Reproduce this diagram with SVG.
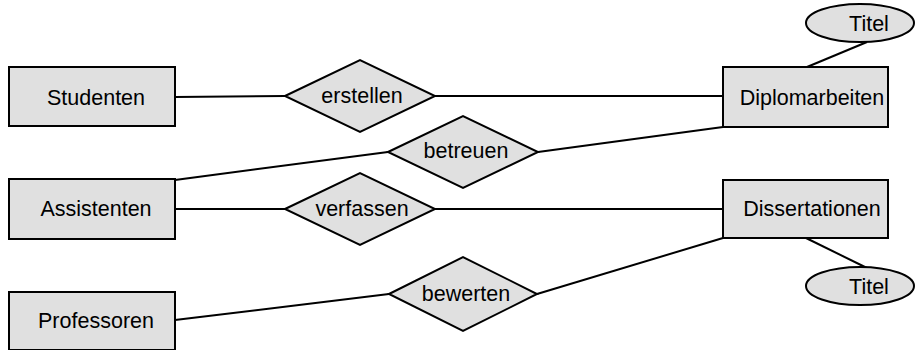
<svg xmlns="http://www.w3.org/2000/svg" width="917" height="350" viewBox="0 0 917 350">
<style>
.s{fill:#e0e0e0;stroke:#000;stroke-width:2}
.c line{stroke:#000;stroke-width:2}
text{font-family:"Liberation Sans",Arial,sans-serif;font-size:21.5px;fill:#000;text-anchor:middle}
</style>
<rect width="917" height="350" fill="#fff"/>
<g class="c" id="connectors">
<line x1="175" y1="97" x2="285" y2="96"/>
<line x1="435" y1="96" x2="723" y2="96"/>
<line x1="807" y1="67" x2="867" y2="42"/>
<line x1="175" y1="180" x2="388" y2="152"/>
<line x1="538" y1="152" x2="723" y2="127"/>
<line x1="175" y1="209" x2="285" y2="209"/>
<line x1="435" y1="209" x2="723" y2="209"/>
<line x1="175" y1="320" x2="389" y2="294"/>
<line x1="537" y1="294" x2="723" y2="238"/>
<line x1="806" y1="238" x2="867" y2="268"/>
</g>
<g id="studenten"><rect class="s" x="9" y="67" width="166" height="59"/><text x="96" y="105">Studenten</text></g>
<g id="assistenten"><rect class="s" x="9" y="179" width="166" height="60"/><text x="96" y="216">Assistenten</text></g>
<g id="professoren"><rect class="s" x="9" y="292" width="166" height="58"/><text x="96" y="328">Professoren</text></g>
<g id="diplomarbeiten"><rect class="s" x="723" y="67" width="165" height="60"/><text x="812" y="105">Diplomarbeiten</text></g>
<g id="dissertationen"><rect class="s" x="723" y="180" width="165" height="58"/><text x="812" y="216">Dissertationen</text></g>
<g id="erstellen"><polygon class="s" points="285,96 360,60 435,96 360,132"/><text x="362" y="103">erstellen</text></g>
<g id="betreuen"><polygon class="s" points="388,152 463,116 538,152 463,188"/><text x="466" y="158">betreuen</text></g>
<g id="verfassen"><polygon class="s" points="285,209 360,173 435,209 360,245"/><text x="362" y="216">verfassen</text></g>
<g id="bewerten"><polygon class="s" points="389,294 463,257 537,294 463,331"/><text x="466" y="301">bewerten</text></g>
<g id="titel1"><ellipse class="s" cx="860" cy="23" rx="54" ry="19"/><text x="869" y="31">Titel</text></g>
<g id="titel2"><ellipse class="s" cx="860" cy="286" rx="54" ry="19"/><text x="869" y="294">Titel</text></g>
</svg>
